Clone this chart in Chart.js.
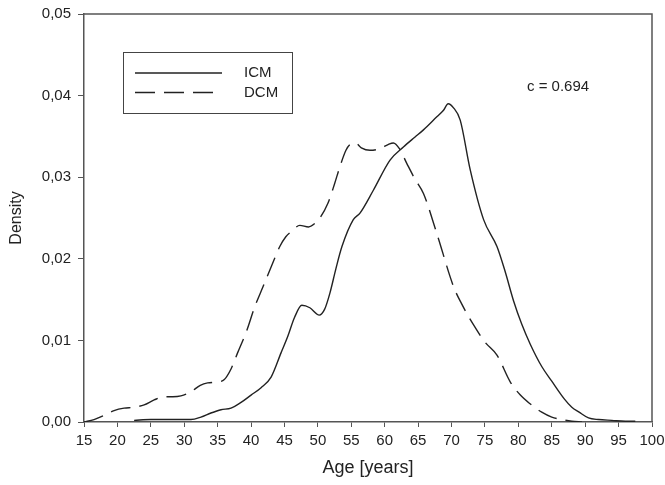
<!DOCTYPE html>
<html>
<head>
<meta charset="utf-8">
<script src="https://cdn.jsdelivr.net/npm/chart.js@4.4.1/dist/chart.umd.min.js"></script>
<style>
	html, body { margin: 0; padding: 0; background: #fff; }
	#wrap { width: 665px; height: 485px; }
</style>
</head>
<body>
<div id="wrap"><canvas id="chart" width="665" height="485"></canvas></div>
<script>
// ICM density curve (solid)
const icmAge = [22.5, 25, 28, 31, 32.5, 34, 35.5, 37, 38.5, 40, 41.5, 43, 44.5, 45.5, 46.5, 47.6, 48.8, 50.2, 51, 51.8, 52.7, 53.6, 55.3, 56.3, 58.3, 60.8, 62.8, 64.5, 65.8, 67.8, 68.8, 69.5, 70.3, 71.3, 72.8, 74.8, 76.8, 78, 79.3, 80.5, 81.8, 83.5, 85, 86.9, 88, 89.1, 90.5, 92, 94, 96, 97.5];
const icmDensity = [0.0002, 0.0003, 0.0003, 0.0003, 0.0006, 0.0011, 0.0015, 0.0017, 0.0024, 0.0033, 0.0042, 0.0055, 0.0085, 0.0105, 0.0128, 0.0143, 0.014, 0.0131, 0.0138, 0.0158, 0.0188, 0.0215, 0.0248, 0.0256, 0.0284, 0.0321, 0.0337, 0.0349, 0.0358, 0.0374, 0.0382, 0.039, 0.0385, 0.037, 0.0309, 0.0248, 0.0215, 0.0185, 0.0148, 0.012, 0.0095, 0.0068, 0.005, 0.0028, 0.0018, 0.0012, 0.0005, 0.0003, 0.0002, 0.0001, 0.0001];

// DCM density curve (dashed)
const dcmAge = [15, 16.5, 18, 19.5, 21, 22.5, 24, 25.5, 27, 28.3, 29.5, 31, 32.4, 33.5, 34.9, 36, 37, 38, 39.4, 40.5, 41.8, 43, 44.3, 45.2, 46.1, 47.3, 48.6, 49.5, 50.3, 51.5, 52.5, 53.3, 54.2, 54.8, 55.6, 56.5, 57.8, 59.3, 60.5, 61.3, 62.2, 63.3, 64.5, 65.8, 67.8, 70.3, 71.5, 73.3, 75, 76.8, 78.8, 80.3, 81.8, 83.5, 85, 86.5, 88, 89.5];
const dcmDensity = [0, 0.0003, 0.0008, 0.0014, 0.0017, 0.0018, 0.0021, 0.0027, 0.0031, 0.0031, 0.0032, 0.0037, 0.0045, 0.0048, 0.0049, 0.0052, 0.0065, 0.0085, 0.0113, 0.014, 0.0166, 0.019, 0.0215, 0.0227, 0.0234, 0.0241, 0.0239, 0.0243, 0.025, 0.0268, 0.0292, 0.0313, 0.0333, 0.034, 0.0342, 0.0336, 0.0333, 0.0335, 0.034, 0.0342, 0.0335, 0.0317, 0.0298, 0.028, 0.0231, 0.0166, 0.0145, 0.0119, 0.0098, 0.0082, 0.0049, 0.0033, 0.0022, 0.0012, 0.0006, 0.0003, 0.0001, 0];

const seriesLabels = ['ICM', 'DCM'];
const annotationText = 'c = 0.694';

const FONT = 'Liberation Sans, Arial, Helvetica, sans-serif';
const INK = '#222';
const AXIS = '#555';

function toPoints(xs, ys) {
	return xs.map(function(x, i){ return { x: x, y: ys[i] }; });
}

function fmtComma(v) {
	return v.toFixed(2).replace('.', ',');
}

// frame (top/right), legend box and the "c =" note
const decorPlugin = {
	id: 'decor',
	afterDraw: function(chart) {
		const ctx = chart.ctx;
		const a = chart.chartArea;
		ctx.save();
		ctx.strokeStyle = AXIS;
		ctx.lineWidth = 1.5;
		ctx.beginPath();
		ctx.moveTo(a.left, a.top);
		ctx.lineTo(a.right, a.top);
		ctx.lineTo(a.right, a.bottom);
		ctx.stroke();

		// legend
		ctx.strokeStyle = '#444';
		ctx.lineWidth = 1;
		ctx.strokeRect(123.5, 52.5, 169, 61);
		ctx.font = '15px ' + FONT;
		ctx.fillStyle = INK;
		ctx.textBaseline = 'middle';
		chart.data.datasets.forEach(function(ds, i){
			const y = 73 + i * 19.5;
			ctx.strokeStyle = ds.borderColor;
			ctx.lineWidth = ds.borderWidth;
			ctx.setLineDash(ds.borderDash || []);
			ctx.beginPath();
			ctx.moveTo(135, y);
			ctx.lineTo(222, y);
			ctx.stroke();
			ctx.setLineDash([]);
			ctx.fillText(ds.label, 244, y);
		});

		ctx.fillText(annotationText, 527, 87);
		ctx.restore();
	}
};

new Chart(document.getElementById('chart'), {
	type: 'line',
	data: {
		datasets: [{
			label: seriesLabels[0],
			data: toPoints(icmAge, icmDensity),
			borderColor: INK,
			borderWidth: 1.4,
			pointRadius: 0,
			cubicInterpolationMode: 'monotone',
			fill: false
		}, {
			label: seriesLabels[1],
			data: toPoints(dcmAge, dcmDensity),
			borderColor: INK,
			borderWidth: 1.4,
			borderDash: [20, 9],
			pointRadius: 0,
			cubicInterpolationMode: 'monotone',
			fill: false
		}]
	},
	options: {
		responsive: false,
		animation: false,
		layout: { padding: { left: 0, top: 14, right: 13, bottom: 0 } },
		plugins: {
			legend: { display: false },
			tooltip: { enabled: false }
		},
		scales: {
			x: {
				type: 'linear',
				min: 15,
				max: 100,
				// fixed box, and keep tick labels from pushing the plot area in
				afterFit: function(s){ s.height = 63; s.paddingLeft = 0; s.paddingRight = 0; },
				border: { display: true, color: AXIS, width: 1.5 },
				grid: { drawOnChartArea: false, drawTicks: true, tickLength: 5, color: AXIS },
				ticks: { stepSize: 5, padding: 5, color: INK, font: { family: FONT, size: 15 }, maxRotation: 0 },
				title: { display: true, text: 'Age [years]', color: INK, font: { family: FONT, size: 18 }, padding: { top: 2, bottom: 6 } }
			},
			y: {
				type: 'linear',
				min: 0,
				max: 0.05,
				afterFit: function(s){ s.width = 84; s.paddingTop = 0; s.paddingBottom = 0; },
				border: { display: true, color: AXIS, width: 1.5 },
				grid: { drawOnChartArea: false, drawTicks: true, tickLength: 6, color: AXIS },
				ticks: { stepSize: 0.01, padding: 7, color: INK, font: { family: FONT, size: 15 }, callback: function(v){ return fmtComma(v); } },
				title: { display: true, text: 'Density', color: INK, font: { family: FONT, size: 16 }, padding: { top: 7, bottom: 4 } }
			}
		}
	},
	plugins: [decorPlugin]
});
</script>
</body>
</html>
